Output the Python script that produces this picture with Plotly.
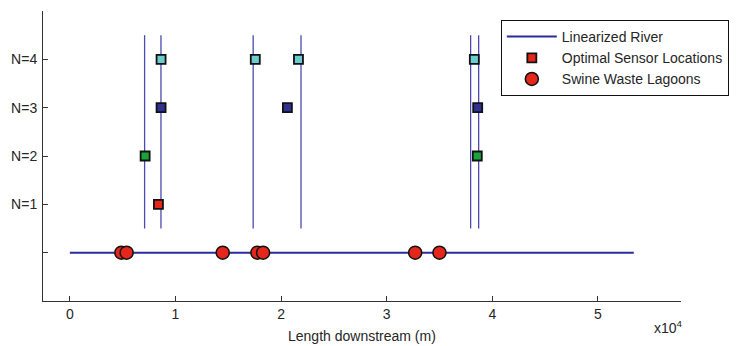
import plotly.graph_objects as go

# ---- data ----
river_x = [0, 53400]
river_y = [0, 0]

branch_x = [7080, 8630, 17360, 21890, 37950, 38710]
branch_y0 = 0.5
branch_y1 = 4.5

sensor_x = [8390, 7130, 38580, 8640, 20600, 38620, 8640, 17560, 21650, 38300]
sensor_n = [1, 2, 2, 3, 3, 3, 4, 4, 4, 4]
n_colors = {1: "#e4261b", 2: "#1aa33a", 3: "#2e3192", 4: "#6ccdd0"}

lagoon_x = [4880, 5380, 14480, 17760, 18300, 32700, 35000]
lagoon_y = [0, 0, 0, 0, 0, 0, 0]

y_tickvals = [1, 2, 3, 4]
y_ticktext = ["N=1", "N=2", "N=3", "N=4"]
y_minor_tickvals = [0]
x_tickvals = [0, 10000, 20000, 30000, 40000, 50000]
x_ticktext = ["0", "1", "2", "3", "4", "5"]

FONT = "Liberation Sans, Arial, sans-serif"
FS = 14
RIVER = "#2b2b9c"

fig = go.Figure()

# vertical branch lines
bx, by = [], []
for x in branch_x:
    bx += [x, x, None]
    by += [branch_y0, branch_y1, None]
fig.add_trace(go.Scatter(x=bx, y=by, mode="lines", showlegend=False,
                         line=dict(color="#4a4ab0", width=1.3), hoverinfo="skip"))

fig.add_trace(go.Scatter(x=river_x, y=river_y, mode="lines", name="Linearized River",
                         line=dict(color=RIVER, width=2)))

fig.add_trace(go.Scatter(x=sensor_x, y=sensor_n, mode="markers", name="Optimal Sensor Locations",
                         marker=dict(symbol="square", size=9,
                                     color=[n_colors[n] for n in sensor_n],
                                     line=dict(color="#111111", width=1.8))))

fig.add_trace(go.Scatter(x=lagoon_x, y=lagoon_y, mode="markers", name="Swine Waste Lagoons",
                         marker=dict(symbol="circle", size=13, color="#e4261b",
                                     line=dict(color="#111111", width=1.5))))

fig.update_layout(
    width=740, height=346,
    margin=dict(l=43, r=57, t=11, b=45),
    paper_bgcolor="white", plot_bgcolor="white",
    font=dict(family=FONT, size=FS, color="#262626"),
    showlegend=True,
    legend=dict(x=0.7176, y=0.969, xanchor="left", yanchor="top",
                bgcolor="white", bordercolor="#111111", borderwidth=1,
                font=dict(size=FS), itemwidth=50, tracegroupgap=0),
    xaxis=dict(range=[-2540, 57870], tickvals=x_tickvals, ticktext=x_ticktext,
               ticks="inside", ticklen=5, tickcolor="#333333",
               showline=True, linecolor="#333333", linewidth=1,
               showgrid=False, zeroline=False, ticklabelstandoff=0,
               automargin=False),
    yaxis=dict(range=[-1, 5], tickvals=y_tickvals, ticktext=y_ticktext,
               ticks="inside", ticklen=5, tickcolor="#333333",
               minor=dict(tickvals=y_minor_tickvals, ticks="inside", ticklen=5,
                          tickcolor="#333333", showgrid=False),
               showline=True, linecolor="#333333", linewidth=1,
               showgrid=False, zeroline=False, ticklabelstandoff=2,
               automargin=False),
    annotations=[
        dict(text="Length downstream (m)", xref="paper", yref="paper",
             x=0.5, y=-0.121, xanchor="center", yanchor="middle",
             showarrow=False, font=dict(size=FS, color="#262626")),
        dict(text="x10<sup>4</sup>", xref="paper", yref="paper",
             x=0.981, y=-0.09, xanchor="center", yanchor="middle",
             showarrow=False, font=dict(size=FS, color="#262626")),
    ],
)

fig.write_html("out.html")
